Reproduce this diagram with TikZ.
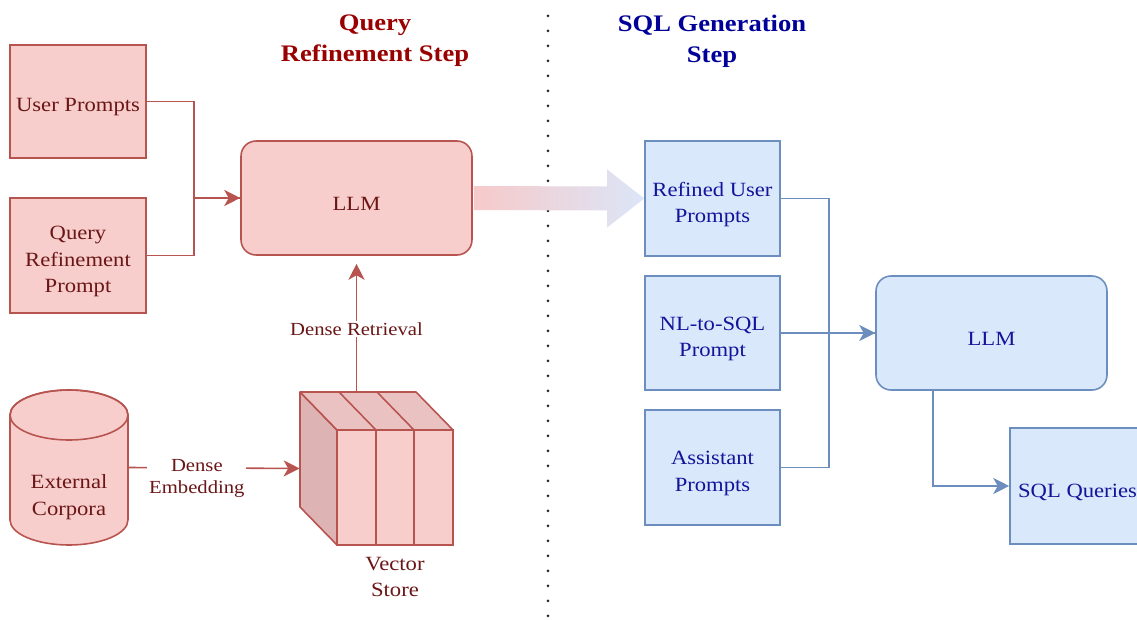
\documentclass[tikz,border=0pt]{standalone}
\usepackage{fontspec}
\setmainfont{Liberation Serif}[FakeStretch=1.12]
\usetikzlibrary{arrows.meta,calc}
\definecolor{pfill}{HTML}{F8CECC}
\definecolor{pline}{HTML}{B85450}
\definecolor{ptext}{HTML}{6A1616}
\definecolor{ptop}{HTML}{EBC2C2}
\definecolor{pside}{HTML}{DEB3B3}
\definecolor{bfill}{HTML}{DAE8FC}
\definecolor{bline}{HTML}{6C8EBF}
\definecolor{btext}{HTML}{14149A}
\definecolor{ttlred}{HTML}{990000}
\definecolor{ttlblue}{HTML}{000099}
\definecolor{arrL}{HTML}{F6CACA}
\definecolor{arrR}{HTML}{DCE5F8}
\begin{document}
\begin{tikzpicture}[x=0.02cm,y=-0.02cm,
  txt/.style={font=\fontsize{11.5}{15}\selectfont, align=center},
  lbl/.style={font=\fontsize{10.5}{13}\selectfont, align=center, fill=white, inner sep=1pt},
  pbox/.style={draw=pline, fill=pfill, line width=0.9pt, inner sep=0pt},
  bbox/.style={draw=bline, fill=bfill, line width=0.9pt, inner sep=0pt},
  ptxt/.style={label={[txt, text=ptext, yshift=-0.12cm]center:#1}},
  btxt/.style={label={[txt, text=btext, yshift=-0.12cm]center:#1}},
  pline/.style={draw=pline, line width=0.9pt},
  bconn/.style={draw=bline, line width=0.9pt},
  parr/.style={pline, -{Stealth[length=0.32cm,width=0.32cm,inset=0.09cm]}},
  barr/.style={bconn, -{Stealth[length=0.32cm,width=0.32cm,inset=0.09cm]}},
  ttl/.style={font=\fontsize{13.5}{17.6}\selectfont\bfseries, align=center}
]
\useasboundingbox (0,0) rectangle (1137,621);

% separator
\draw[line width=0.06cm, line cap=round, dash pattern=on 0pt off 0.3cm, black!85] (548,16) -- (548,621);

% titles
\node[ttl, text=ttlred] (t1) at (375,41) {Query\\Refinement Step};
\node[ttl, text=ttlblue] (t2) at (712,41) {SQL Generation\\Step};

% left nodes
\node[pbox, minimum width=2.72cm, minimum height=2.26cm, ptxt={User Prompts}] (up) at (78,101.5) {};
\node[pbox, minimum width=2.72cm, minimum height=2.30cm, ptxt={Query\\Refinement\\Prompt}] (qrp) at (78,255.5) {};
\node[pbox, rounded corners=0.3cm, minimum width=4.62cm, minimum height=2.28cm, ptxt={LLM}] (llm1) at (356.5,198) {};

\draw[pline] (up.east) -- ++(47,0) |- (llm1.west);
\draw[parr] (qrp.east) -- ++(47,0) |- (llm1.west);

% cylinder
\path[draw=pline, fill=pfill, line width=0.9pt] (10,415) -- (10,520)
  arc[start angle=180, end angle=360, x radius=1.18cm, y radius=0.5cm] -- (128,415)
  arc[start angle=0, end angle=180, x radius=1.18cm, y radius=0.5cm] -- cycle;
\draw[pline] (69,415) ellipse [x radius=1.18cm, y radius=0.5cm];
\node[minimum width=2.36cm, minimum height=3.1cm, inner sep=0pt] (corp) at (69,467.5) {};
\node[txt, text=ptext] (corptxt) at (69,497) {External\\Corpora};

% vector store
\node[minimum width=3.06cm, minimum height=3.06cm, inner sep=0pt] (vs) at (376.5,468.5) {};
\draw[pline, fill=pside, line join=round] (300,392) -- (337,430) -- (337,545) -- (300,507) -- cycle;
\draw[pline, fill=ptop, line join=round] (300,392) -- (416,392) -- (453,430) -- (337,430) -- cycle;
\draw[pline] (339,392) -- (376,430) (377,392) -- (414,430);
\draw[pline, fill=pfill] (337,430) rectangle (376,545);
\draw[pline, fill=pfill] (376,430) rectangle (414,545);
\draw[pline, fill=pfill] (414,430) rectangle (453,545);
\node[txt, text=ptext] (vstxt) at (395,577) {Vector\\Store};

\draw[parr] (corp.east) -- node[lbl, text=ptext, pos=0.4, yshift=-0.21cm] {Dense\\Embedding} (vs.west);
\draw[parr, shorten >=0.16cm] (vs.north -| llm1.south) -- node[lbl, text=ptext, pos=0.46] {Dense Retrieval} (llm1.south);

% right nodes
\node[bbox, minimum width=2.7cm, minimum height=2.3cm, btxt={Refined User\\Prompts}] (rup) at (712.5,198.5) {};
\node[bbox, minimum width=2.7cm, minimum height=2.28cm, btxt={NL-to-SQL\\Prompt}] (nl) at (712.5,333) {};
\node[bbox, minimum width=2.7cm, minimum height=2.3cm, btxt={Assistant\\Prompts}] (ap) at (712.5,467.5) {};
\node[bbox, rounded corners=0.3cm, minimum width=4.62cm, minimum height=2.28cm, btxt={LLM}] (llm2) at (991.5,333) {};
\node[bbox, minimum width=2.7cm, minimum height=2.32cm, btxt={SQL Queries}] (sql) at (1077.5,486) {};

% big gradient arrow
\shade[left color=arrL, right color=arrR]
  ($(llm1.east)+(1,-12)$) -- ($(rup.west)+(-37,-12)$) -- ($(rup.west)+(-37,-29)$) --
  (rup.west) -- ($(rup.west)+(-37,29)$) -- ($(rup.west)+(-37,12)$) -- ($(llm1.east)+(1,12)$) -- cycle;

\draw[bconn] (rup.east) -- ++(48,0) |- (llm2.west);
\draw[barr] (nl.east) -- (llm2.west);
\draw[bconn] (ap.east) -- ++(48,0) |- (llm2.west);
\draw[barr] ($(llm2.south west)+(58,0)$) |- (sql.west);
\end{tikzpicture}
\end{document}
